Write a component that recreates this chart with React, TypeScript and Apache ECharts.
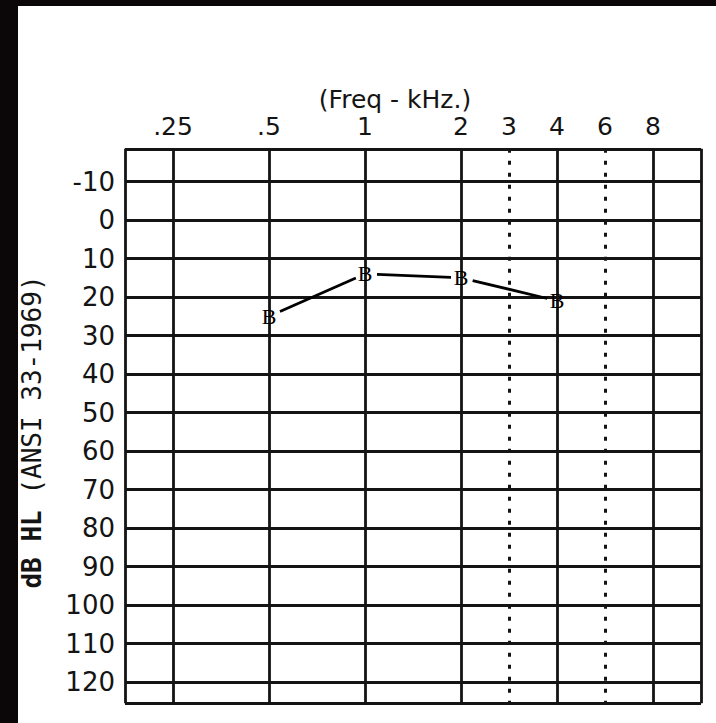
import React, { useEffect, useRef } from 'react';
import * as echarts from 'echarts';

// Audiometric frequencies (kHz) and their octave positions on the chart
const FREQ_LABELS = ['.25', '.5', '1', '2', '3', '4', '6', '8'];
const FREQ_POSITIONS = [0, 1, 2, 3, 3.5, 4, 4.5, 5];
const DOTTED_FREQS = ['3', '6'];
// Hearing level ticks (dB HL)
const DB_TICKS = [-10, 0, 10, 20, 30, 40, 50, 60, 70, 80, 90, 100, 110, 120];
const FRAME_DB = [-18.5, 125.5];
const FRAME_OCT = [-0.5, 5.5];
// Thresholds ("B" markers)
const TEST_FREQS = ['.5', '1', '2', '4'];
const TEST_DB = [25, 14, 15, 21];

const X_TITLE = '(Freq - kHz.)';
const Y_TITLE_BOLD = 'dB HL';
const Y_TITLE_REST = ' (ANSI 33-1969)';

const INK = '#141414';
const posOf = (f: string) => FREQ_POSITIONS[FREQ_LABELS.indexOf(f)];

export default function App() {
  const ref = useRef<HTMLDivElement>(null);
  useEffect(() => {
    if (!ref.current) return;
    const chart = echarts.init(ref.current, null, { renderer: 'svg' });

    const solidStyle = { type: 'solid', width: 2.8, color: INK };
    const dottedStyle = { type: [4, 8], width: 3, color: INK };

    const vLines = [
      ...FRAME_OCT.map((x) => ({ x, dotted: false })),
      ...FREQ_LABELS.map((f, i) => ({ x: FREQ_POSITIONS[i], dotted: DOTTED_FREQS.includes(f) })),
    ].map((v) => {
      const ls = v.dotted ? dottedStyle : solidStyle;
      return [
        { coord: [v.x, FRAME_DB[0]], lineStyle: ls },
        { coord: [v.x, FRAME_DB[1]], lineStyle: ls },
      ];
    });
    const hLines = [...FRAME_DB, ...DB_TICKS].map((y) => [
      { coord: [FRAME_OCT[0], y], lineStyle: solidStyle },
      { coord: [FRAME_OCT[1], y], lineStyle: solidStyle },
    ]);

    const data = TEST_FREQS.map((f, i) => [posOf(f), TEST_DB[i]]);

    chart.setOption({
      animation: false,
      backgroundColor: '#ffffff',
      grid: { left: 125, right: 15, top: 143, bottom: 2.5 },
      xAxis: {
        type: 'value',
        position: 'top',
        min: -0.5,
        max: 5.5,
        interval: 0.5,
        axisLine: { show: false },
        axisTick: { show: false },
        splitLine: { show: false },
        axisLabel: {
          showMinLabel: true,
          showMaxLabel: true,
          margin: 4,
          fontSize: 25,
          fontFamily: 'DejaVu Sans',
          color: INK,
          formatter: (v: number) => {
            const i = FREQ_POSITIONS.indexOf(v);
            return i >= 0 ? FREQ_LABELS[i] : '';
          },
        },
      },
      yAxis: {
        type: 'value',
        inverse: true,
        min: -20,
        max: 130,
        interval: 10,
        axisLine: { show: false },
        axisTick: { show: false },
        splitLine: { show: false },
        axisLabel: {
          showMinLabel: true,
          showMaxLabel: true,
          margin: 10,
          fontSize: 26,
          fontFamily: 'DejaVu Sans',
          color: INK,
          formatter: (v: number) => (DB_TICKS.includes(v) ? String(v) : ''),
        },
      },
      graphic: [
        { type: 'rect', silent: true, shape: { x: 0, y: 0, width: 716, height: 6 }, style: { fill: '#0b0607' } },
        { type: 'rect', silent: true, shape: { x: 0, y: 0, width: 18, height: 723 }, style: { fill: '#0b0607' } },
        {
          type: 'text',
          x: 395,
          y: 99,
          style: {
            text: X_TITLE,
            fill: INK,
            font: '25px "DejaVu Sans"',
            align: 'center',
            verticalAlign: 'middle',
          },
        },
        {
          type: 'text',
          x: 32,
          y: 432,
          rotation: Math.PI / 2,
          style: {
            text: '{b|' + Y_TITLE_BOLD + '}{r|' + Y_TITLE_REST + '}',
            align: 'center',
            verticalAlign: 'middle',
            rich: {
              b: { fontFamily: 'DejaVu Sans Mono', fontSize: 26, fontWeight: 'bold', fill: INK },
              r: { fontFamily: 'DejaVu Sans Mono', fontSize: 26, fill: INK },
            },
          },
        },
      ],
      series: [
        {
          type: 'custom',
          coordinateSystem: 'cartesian2d',
          data,
          z: 5,
          renderItem: (params: any, api: any) => {
            const i = params.dataIndex;
            const p = api.coord([api.value(0), api.value(1)]);
            const children: any[] = [
              {
                type: 'text',
                x: p[0],
                y: p[1],
                style: {
                  text: 'B',
                  fill: '#000',
                  font: '22px "Liberation Serif"',
                  align: 'center',
                  verticalAlign: 'middle',
                },
              },
            ];
            if (i > 0) {
              const q = api.coord([posOf(TEST_FREQS[i - 1]), TEST_DB[i - 1]]);
              const dx = p[0] - q[0];
              const dy = p[1] - q[1];
              const len = Math.hypot(dx, dy) || 1;
              const ux = dx / len;
              const uy = dy / len;
              children.push({
                type: 'line',
                shape: { x1: q[0] + ux * 12, y1: q[1] + uy * 12, x2: p[0] - ux * 10, y2: p[1] - uy * 10 },
                style: { stroke: '#000', lineWidth: 2.8 },
              });
            }
            return { type: 'group', children };
          },
          markLine: {
            silent: true,
            symbol: ['none', 'none'],
            label: { show: false },
            emphasis: { disabled: true },
            data: [...vLines, ...hLines],
          },
        },
      ],
    });
    return () => chart.dispose();
  }, []);
  return (
    <div
      ref={ref}
      style={{ position: 'fixed', left: 0, top: 0, width: 716, height: 723, background: '#fff' }}
    />
  );
}
